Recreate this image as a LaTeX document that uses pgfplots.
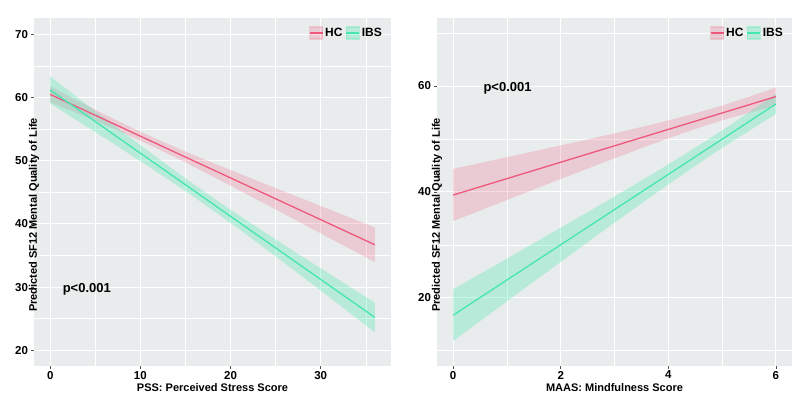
\documentclass[border=0pt]{standalone}
\usepackage{pgfplots}
\pgfplotsset{compat=1.18}
\usepackage{pgfplotstable}
\usepgfplotslibrary{fillbetween}
\usepackage{fontspec}
\setmainfont{Liberation Sans}
\definecolor{bg}{RGB}{233,236,236}
\definecolor{hcline}{RGB}{238,88,124}
\definecolor{ibsline}{RGB}{70,230,176}
\definecolor{tickc}{RGB}{80,80,80}

\pgfplotstableread{
x y lo hi
0 60.5 59.25 61.75
5 57.195 56.32 58.08
10 53.89 53.17 54.61
15 50.585 49.71 51.47
20 47.28 46.03 48.53
25 43.975 42.29 45.67
30 40.67 38.50 42.84
36 36.70 33.95 39.45
}\hcA
\pgfplotstableread{
x y lo hi
0 61.2 59.05 63.35
5 56.2 54.53 57.87
10 51.2 49.93 52.47
15 46.2 45.18 47.22
20 41.2 40.15 42.25
25 36.2 34.86 37.54
30 31.2 29.44 32.96
36 25.2 22.85 27.55
}\ibsA
\pgfplotstableread{
x y lo hi
0 39.4 34.45 44.35
1 42.5 38.45 46.55
2 45.6 42.42 48.78
3 48.7 46.34 51.06
4 51.8 50.10 53.50
5 54.9 53.49 56.31
6 58.0 56.30 59.70
}\hcB
\pgfplotstableread{
x y lo hi
0 16.7 11.8 21.6
1 23.35 19.31 27.39
2 30.0 26.77 33.23
3 36.65 34.17 39.13
4 43.3 41.4 45.2
5 49.95 48.29 51.61
6 56.6 54.7 58.5
}\ibsB

\pgfplotsset{
  ggstyle/.style={
    scale only axis,
    height=348bp,
    /pgf/number format/assume math mode=true,
    axis background/.style={fill=bg},
    axis x line*=bottom, axis y line*=left,
    axis line style={draw=none},
    tick align=outside,
    major tick length=3bp,
    minor tick length=0pt,
    tick style={color=tickc, line width=0.5bp},
    grid=both,
    major grid style={white, line width=0.9bp},
    minor grid style={white, line width=0.45bp},
    tick label style={font=\fontsize{11.5bp}{13bp}\selectfont\bfseries},
    yticklabel style={xshift=0.5bp},
    label style={font=\fontsize{11bp}{13bp}\selectfont\bfseries},
    xlabel style={at={(0.5,0)}, anchor=center, yshift=-22bp},
    xticklabel style={yshift=1.5bp},
    legend style={at={(1,1)}, anchor=north east, xshift=-7bp, yshift=-8bp,
      draw=none, fill=none, legend columns=2,
      font=\fontsize{12bp}{14bp}\selectfont\bfseries,
      /tikz/every even column/.append style={column sep=1bp},
      inner sep=0pt},
    legend cell align=left,
  },
  hcleg/.style={legend image code/.code={
      \fill[hcline, opacity=0.22] (0bp,-6bp) rectangle (13bp,6bp);
      \draw[hcline, line width=1.3bp] (0bp,0bp) -- (13bp,0bp);}},
  ibsleg/.style={legend image code/.code={
      \fill[ibsline, opacity=0.3] (0bp,-6bp) rectangle (13bp,6bp);
      \draw[ibsline, line width=1.3bp] (0bp,0bp) -- (13bp,0bp);}},
}

\begin{document}
\begin{tikzpicture}
% ---------------- Panel A ----------------
\begin{axis}[ggstyle,
  at={(34bp,34bp)}, anchor=south west,
  width=357bp,
  xmin=-1.8, xmax=37.8, ymin=17.5, ymax=72.6,
  xtick={0,10,20,30}, minor xtick={5,15,25,35},
  ytick={20,30,40,50,60,70}, minor ytick={25,35,45,55,65},
  xlabel={PSS: Perceived Stress Score},
  ylabel={Predicted SF12 Mental Quality of Life},
  ylabel style={at={(0,0.5)}, anchor=center, xshift=-23bp},
]
\addplot[name path=hAl, draw=none, forget plot, smooth] table[x=x, y=lo] {\hcA};
\addplot[name path=hAh, draw=none, forget plot, smooth] table[x=x, y=hi] {\hcA};
\addplot[hcline, fill opacity=0.22, forget plot] fill between[of=hAl and hAh];
\addplot[name path=iAl, draw=none, forget plot, smooth] table[x=x, y=lo] {\ibsA};
\addplot[name path=iAh, draw=none, forget plot, smooth] table[x=x, y=hi] {\ibsA};
\addplot[ibsline, fill opacity=0.3, forget plot] fill between[of=iAl and iAh];
\addplot[hcline, line width=1.3bp, hcleg] table[x=x, y=y] {\hcA};
\addlegendentry{HC}
\addplot[ibsline, line width=1.3bp, ibsleg] table[x=x, y=y] {\ibsA};
\addlegendentry{IBS}
\node[anchor=west, font=\fontsize{13bp}{15bp}\selectfont\bfseries] at (axis cs:1.0,29.7) {p<0.001};
\node[anchor=south west, font=\fontsize{10bp}{12bp}\selectfont\bfseries, inner sep=0pt, yshift=7bp] at (rel axis cs:0,1) {(A)};
\end{axis}

% ---------------- Panel B ----------------
\begin{axis}[ggstyle,
  at={(437bp,34bp)}, anchor=south west,
  width=355bp,
  xmin=-0.3, xmax=6.3, ymin=7.1, ymax=72.85,
  xtick={0,2,4,6}, minor xtick={1,3,5},
  ytick={20,40,60}, minor ytick={10,30,50,70},
  xlabel={MAAS: Mindfulness Score},
  ylabel={Predicted SF12 Mental Quality of Life},
  ylabel style={at={(0,0.5)}, anchor=center, xshift=-23bp},
]
\addplot[name path=hBl, draw=none, forget plot, smooth] table[x=x, y=lo] {\hcB};
\addplot[name path=hBh, draw=none, forget plot, smooth] table[x=x, y=hi] {\hcB};
\addplot[hcline, fill opacity=0.22, forget plot] fill between[of=hBl and hBh];
\addplot[name path=iBl, draw=none, forget plot, smooth] table[x=x, y=lo] {\ibsB};
\addplot[name path=iBh, draw=none, forget plot, smooth] table[x=x, y=hi] {\ibsB};
\addplot[ibsline, fill opacity=0.3, forget plot] fill between[of=iBl and iBh];
\addplot[hcline, line width=1.3bp, hcleg] table[x=x, y=y] {\hcB};
\addlegendentry{HC}
\addplot[ibsline, line width=1.3bp, ibsleg] table[x=x, y=y] {\ibsB};
\addlegendentry{IBS}
\node[anchor=west, font=\fontsize{13bp}{15bp}\selectfont\bfseries] at (axis cs:0.5,59.6) {p<0.001};
\node[anchor=south west, font=\fontsize{10bp}{12bp}\selectfont\bfseries, inner sep=0pt, yshift=7bp] at (rel axis cs:0,1) {(B)};
\end{axis}
\pgfresetboundingbox
\path[use as bounding box] (0,0) rectangle (800bp,400bp);
\end{tikzpicture}
\end{document}
